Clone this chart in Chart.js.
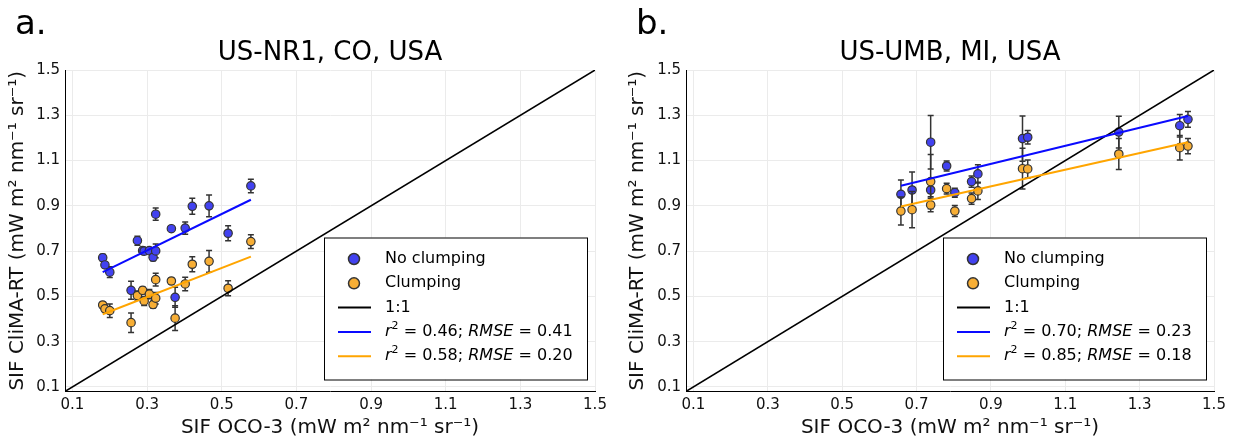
<!DOCTYPE html>
<html>
<head>
<meta charset="utf-8">
<script src="https://cdn.jsdelivr.net/npm/chart.js@4.4.1/dist/chart.umd.min.js"></script>
<style>
    body { margin: 0; background: #fff; }
    #wrap { position: relative; width: 1234px; height: 440px; }
    canvas { position: absolute; top: 0; }
</style>
</head>
<body>
<div id="wrap">
    <canvas id="nr1" width="617" height="440" style="left:0"></canvas>
    <canvas id="umb" width="617" height="440" style="left:617px"></canvas>
</div>
<script>
const FONT = "'DejaVu Sans', sans-serif";

// shared axes
const axisTicks = [0.1, 0.3, 0.5, 0.7, 0.9, 1.1, 1.3, 1.5];
const axisMin = 0.08;
const axisMax = 1.5;
const oneToOne = [0.08, 1.5];

// a. US-NR1, CO, USA
const nr1X = [0.181, 0.187, 0.200, 0.257, 0.274, 0.288, 0.292, 0.306, 0.316, 0.323, 0.323, 0.365, 0.375, 0.402, 0.421, 0.466, 0.517, 0.578];
const nr1NoClump = [0.671, 0.639, 0.607, 0.527, 0.746, 0.702, 0.700, 0.702, 0.673, 0.701, 0.863, 0.799, 0.496, 0.802, 0.898, 0.900, 0.779, 0.988];
const nr1NoClumpErr = [0.015, 0.012, 0.024, 0.040, 0.020, 0.015, 0.015, 0.012, 0.015, 0.030, 0.027, 0.008, 0.044, 0.027, 0.035, 0.048, 0.033, 0.030];
const nr1Clump = [0.462, 0.445, 0.437, 0.384, 0.504, 0.527, 0.480, 0.510, 0.464, 0.492, 0.574, 0.568, 0.404, 0.555, 0.642, 0.655, 0.536, 0.742];
const nr1ClumpErr = [0.012, 0.012, 0.030, 0.043, 0.020, 0.015, 0.020, 0.020, 0.015, 0.025, 0.028, 0.012, 0.055, 0.030, 0.033, 0.048, 0.033, 0.030];
const nr1FitX = [0.181, 0.578];
const nr1FitNoClump = [0.607, 0.927];
const nr1FitClump = [0.421, 0.676];
const nr1Stats = ["0.46", "0.41", "0.58", "0.20"];

// b. US-UMB, MI, USA
const umbX = [0.658, 0.688, 0.738, 0.738, 0.781, 0.803, 0.848, 0.865, 0.985, 0.999, 1.244, 1.408, 1.430];
const umbNoClump = [0.951, 0.970, 1.181, 0.970, 1.076, 0.958, 1.007, 1.041, 1.197, 1.203, 1.226, 1.254, 1.282];
const umbNoClumpErr = [0.063, 0.080, 0.118, 0.030, 0.022, 0.020, 0.025, 0.040, 0.100, 0.030, 0.070, 0.050, 0.035];
const umbClump = [0.877, 0.883, 1.007, 0.904, 0.976, 0.877, 0.932, 0.966, 1.064, 1.063, 1.129, 1.157, 1.164];
const umbClumpErr = [0.062, 0.080, 0.120, 0.030, 0.024, 0.024, 0.025, 0.038, 0.090, 0.040, 0.068, 0.054, 0.034];
const umbFitX = [0.658, 1.430];
const umbFitNoClump = [0.989, 1.297];
const umbFitClump = [0.897, 1.181];
const umbStats = ["0.70", "0.23", "0.85", "0.18"];

const blueFill = "#4242f0";
const orangeFill = "#f7ae35";
const blueLine = "#0a0aff";
const orangeLine = "#ffa500";

window.onload = function() {
    makeChart("nr1", {
        tag: "a.", title: "US-NR1, CO, USA", padLeft: 0, padRight: 22, yTitlePad: 6,
        x: nr1X, noClump: nr1NoClump, noClumpErr: nr1NoClumpErr, clump: nr1Clump, clumpErr: nr1ClumpErr,
        fitX: nr1FitX, fitNoClump: nr1FitNoClump, fitClump: nr1FitClump, stats: nr1Stats
    });
    makeChart("umb", {
        tag: "b.", title: "US-UMB, MI, USA", padLeft: 4, padRight: 20, yTitlePad: 5,
        x: umbX, noClump: umbNoClump, noClumpErr: umbNoClumpErr, clump: umbClump, clumpErr: umbClumpErr,
        fitX: umbFitX, fitNoClump: umbFitNoClump, fitClump: umbFitClump, stats: umbStats
    });
}

function points(xs, ys) {
    return xs.map(function(x, i) { return { x: x, y: ys[i] }; });
}

// vertical error bars, drawn just under each scatter series
const errorBars = {
    id: "errorBars",
    beforeDatasetDraw(chart, args) {
        const ds = chart.data.datasets[args.index];
        if (!ds.err) return;
        const ctx = chart.ctx;
        const xs = chart.scales.x;
        const ys = chart.scales.y;
        ctx.save();
        ctx.strokeStyle = "#333";
        ctx.lineWidth = 1.5;
        ds.data.forEach(function(p, i) {
            const px = xs.getPixelForValue(p.x);
            const top = ys.getPixelForValue(p.y + ds.err[i]);
            const bot = ys.getPixelForValue(p.y - ds.err[i]);
            ctx.beginPath();
            ctx.moveTo(px, top); ctx.lineTo(px, bot);
            ctx.moveTo(px - 3, top); ctx.lineTo(px + 3, top);
            ctx.moveTo(px - 3, bot); ctx.lineTo(px + 3, bot);
            ctx.stroke();
        });
        ctx.restore();
    }
};

function drawRich(ctx, x, y, parts) {
    parts.forEach(function(p) {
        if (p.sup) {
            ctx.font = "11px " + FONT;
            ctx.fillText(p.t, x, y - 6);
        } else {
            ctx.font = (p.it ? "italic " : "") + "16px " + FONT;
            ctx.fillText(p.t, x, y);
        }
        x += ctx.measureText(p.t).width;
    });
}

function statParts(r2, rmse) {
    return [
        { t: "r", it: true }, { t: "2", sup: true }, { t: " = " + r2 + "; " },
        { t: "RMSE", it: true }, { t: " = " + rmse }
    ];
}

// panel tag, title and the legend box
const panelText = {
    id: "panelText",
    afterDraw(chart, args, opts) {
        const ctx = chart.ctx;
        const area = chart.chartArea;
        ctx.save();
        ctx.fillStyle = "#000";
        ctx.textBaseline = "alphabetic";
        ctx.textAlign = "left";
        ctx.font = "34px " + FONT;
        ctx.fillText(opts.tag, area.left - 50, 34);
        ctx.textAlign = "center";
        ctx.font = "26px " + FONT;
        ctx.fillText(opts.title, (area.left + area.right) / 2, 60);

        const w = 263, h = 142;
        const left = area.right - 8 - w;
        const top = area.bottom - 12 - h;
        ctx.fillStyle = "#fff";
        ctx.fillRect(left, top, w, h);
        ctx.strokeStyle = "#000";
        ctx.lineWidth = 1;
        ctx.strokeRect(left + 0.5, top + 0.5, w, h);

        const rowY = function(i) { return top + 21.5 + i * 24.3; };
        const textX = left + 61;
        ctx.textAlign = "left";
        ctx.textBaseline = "middle";

        [blueFill, orangeFill].forEach(function(c, i) {
            ctx.beginPath();
            ctx.arc(left + 30, rowY(i), 5.5, 0, Math.PI * 2);
            ctx.fillStyle = c;
            ctx.fill();
            ctx.strokeStyle = "#333";
            ctx.lineWidth = 1.5;
            ctx.stroke();
        });
        ["#000", blueLine, orangeLine].forEach(function(c, i) {
            ctx.beginPath();
            ctx.moveTo(left + 14, rowY(i + 2));
            ctx.lineTo(left + 47, rowY(i + 2));
            ctx.strokeStyle = c;
            ctx.lineWidth = 2;
            ctx.stroke();
        });
        ctx.fillStyle = "#000";
        ctx.font = "16px " + FONT;
        ctx.fillText("No clumping", textX, rowY(0));
        ctx.fillText("Clumping", textX, rowY(1));
        ctx.fillText("1:1", textX, rowY(2));
        drawRich(ctx, textX, rowY(3), statParts(opts.stats[0], opts.stats[1]));
        drawRich(ctx, textX, rowY(4), statParts(opts.stats[2], opts.stats[3]));
        ctx.restore();
    }
};

function axisOptions(titleText, titlePad) {
    return {
        type: "linear",
        min: axisMin,
        max: axisMax,
        afterBuildTicks: function(scale) {
            scale.ticks = axisTicks.map(function(v) { return { value: v }; });
        },
        grid: { color: "#ebebeb", lineWidth: 1, drawTicks: false },
        border: { color: "#000", width: 1 },
        ticks: {
            autoSkip: false,
            maxRotation: 0,
            padding: 5,
            color: "#111",
            font: { family: FONT, size: 15 },
            callback: function(v) { return v.toFixed(1); }
        },
        title: {
            display: true,
            text: titleText,
            color: "#111",
            font: { family: FONT, size: 20 },
            padding: titlePad
        }
    };
}

function makeChart(id, cfg) {
    const canvas = document.getElementById(id).getContext("2d");
    const xAxis = axisOptions("SIF OCO-3 (mW m\u00b2 nm\u207b\u00b9 sr\u207b\u00b9)", { top: 0, bottom: 0 });
    xAxis.afterFit = function(scale) { scale.height = 48.5; };
    const yAxis = axisOptions("SIF CliMA-RT (mW m\u00b2 nm\u207b\u00b9 sr\u207b\u00b9)", { top: cfg.yTitlePad, bottom: 0 });
    yAxis.afterFit = function(scale) { scale.width = 65; };

    const chart = new Chart(canvas, {
        type: "scatter",
        data: {
            datasets: [{
                label: "No clumping",
                data: points(cfg.x, cfg.noClump),
                err: cfg.noClumpErr,
                backgroundColor: blueFill,
                borderColor: "#333",
                borderWidth: 1.2,
                pointRadius: 4.2,
                order: 4
            }, {
                label: "Clumping",
                data: points(cfg.x, cfg.clump),
                err: cfg.clumpErr,
                backgroundColor: orangeFill,
                borderColor: "#333",
                borderWidth: 1.2,
                pointRadius: 4.2,
                order: 3
            }, {
                label: "1:1",
                type: "line",
                data: points(oneToOne, oneToOne),
                borderColor: "#000",
                borderWidth: 1.5,
                pointRadius: 0,
                order: 2
            }, {
                label: "fit no clumping",
                type: "line",
                data: points(cfg.fitX, cfg.fitNoClump),
                borderColor: blueLine,
                borderWidth: 2,
                pointRadius: 0,
                order: 1
            }, {
                label: "fit clumping",
                type: "line",
                data: points(cfg.fitX, cfg.fitClump),
                borderColor: orangeLine,
                borderWidth: 2,
                pointRadius: 0,
                order: 0
            }]
        },
        options: {
            responsive: false,
            animation: false,
            devicePixelRatio: 1,
            layout: { padding: { left: cfg.padLeft, right: cfg.padRight, top: 70, bottom: 0 } },
            plugins: {
                legend: { display: false },
                tooltip: { enabled: false },
                panelText: { tag: cfg.tag, title: cfg.title, stats: cfg.stats }
            },
            scales: { x: xAxis, y: yAxis }
        },
        plugins: [errorBars, panelText]
    });
}
</script>
</body>
</html>
